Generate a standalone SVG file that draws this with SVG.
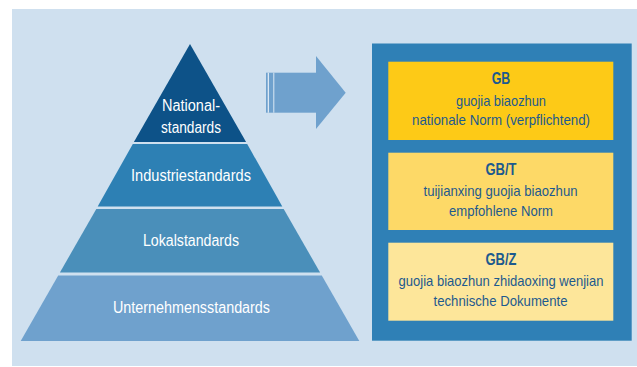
<svg xmlns="http://www.w3.org/2000/svg" width="637" height="367" viewBox="0 0 637 367">
  <style>
    .lvl { font-family: "Liberation Sans Narrow", "Liberation Sans", Arial, sans-serif; font-size: 16px; fill: #ffffff; text-anchor: middle; }
    .code { font-family: "Liberation Sans Narrow", "Liberation Sans", Arial, sans-serif; font-size: 16px; font-weight: bold; fill: #1d5a8e; text-anchor: middle; }
    .desc { font-family: "Liberation Sans Narrow", "Liberation Sans", Arial, sans-serif; font-size: 14.5px; fill: #1d5a8e; text-anchor: middle; }
  </style>

  <!-- page background -->
  <rect x="12" y="9" width="625" height="357" fill="#cfe0ef"/>

  <!-- pyramid of standard levels -->
  <g id="national">
    <polygon points="190,44 246.1,142 133.9,142" fill="#0d5288"/>
    <text class="lvl" x="191" y="111" textLength="58" lengthAdjust="spacingAndGlyphs">National-</text>
    <text class="lvl" x="191" y="133" textLength="60" lengthAdjust="spacingAndGlyphs">standards</text>
  </g>
  <g id="industrie">
    <polygon points="132.8,144 247.2,144 282.3,206.5 97.7,206.5" fill="#2d80b4"/>
    <text class="lvl" x="191" y="180.5" textLength="120" lengthAdjust="spacingAndGlyphs">Industriestandards</text>
  </g>
  <g id="lokal">
    <polygon points="96.3,209 283.7,209 320.1,272.5 59.9,272.5" fill="#4a8fba"/>
    <text class="lvl" x="191" y="246" textLength="96" lengthAdjust="spacingAndGlyphs">Lokalstandards</text>
  </g>
  <g id="unternehmen">
    <polygon points="58.2,275.5 321.8,275.5 359.3,341 20.7,341" fill="#6fa1cd"/>
    <text class="lvl" x="191.5" y="313" textLength="157" lengthAdjust="spacingAndGlyphs">Unternehmensstandards</text>
  </g>

  <!-- arrow from the pyramid tip to the GB categories -->
  <g id="connectors">
    <rect x="266" y="72.7" width="50.5" height="40" fill="#6fa1cd"/>
    <polygon points="316,56 345.7,92.7 316,129" fill="#6fa1cd"/>
    <rect x="267.7" y="72.7" width="1.3" height="40" fill="#dbe8f4"/>
    <rect x="273.3" y="72.7" width="1" height="40" fill="#dbe8f4"/>
  </g>

  <!-- national standard categories -->
  <g id="gb-panel">
    <rect x="372" y="43.5" width="259.7" height="297.2" fill="#2f80b6"/>
  </g>
  <g id="gb">
    <rect x="388.3" y="61.7" width="225" height="78.3" fill="#fdca17"/>
    <text class="code" x="501" y="83.5" textLength="18.5" lengthAdjust="spacingAndGlyphs">GB</text>
    <text class="desc" x="501" y="105.5" textLength="90" lengthAdjust="spacingAndGlyphs">guojia biaozhun</text>
    <text class="desc" x="501" y="125" textLength="178" lengthAdjust="spacingAndGlyphs">nationale Norm (verpflichtend)</text>
  </g>
  <g id="gb-t">
    <rect x="388.3" y="152.7" width="225" height="77.3" fill="#fdd967"/>
    <text class="code" x="501" y="175" textLength="31" lengthAdjust="spacingAndGlyphs">GB/T</text>
    <text class="desc" x="500.5" y="196" textLength="154" lengthAdjust="spacingAndGlyphs">tuijianxing guojia biaozhun</text>
    <text class="desc" x="501" y="215.5" textLength="104" lengthAdjust="spacingAndGlyphs">empfohlene Norm</text>
  </g>
  <g id="gb-z">
    <rect x="388.3" y="242.7" width="225" height="78" fill="#fde69a"/>
    <text class="code" x="501" y="265" textLength="31" lengthAdjust="spacingAndGlyphs">GB/Z</text>
    <text class="desc" x="501" y="285.5" textLength="205" lengthAdjust="spacingAndGlyphs">guojia biaozhun zhidaoxing wenjian</text>
    <text class="desc" x="500.5" y="305.5" textLength="134" lengthAdjust="spacingAndGlyphs">technische Dokumente</text>
  </g>
</svg>
